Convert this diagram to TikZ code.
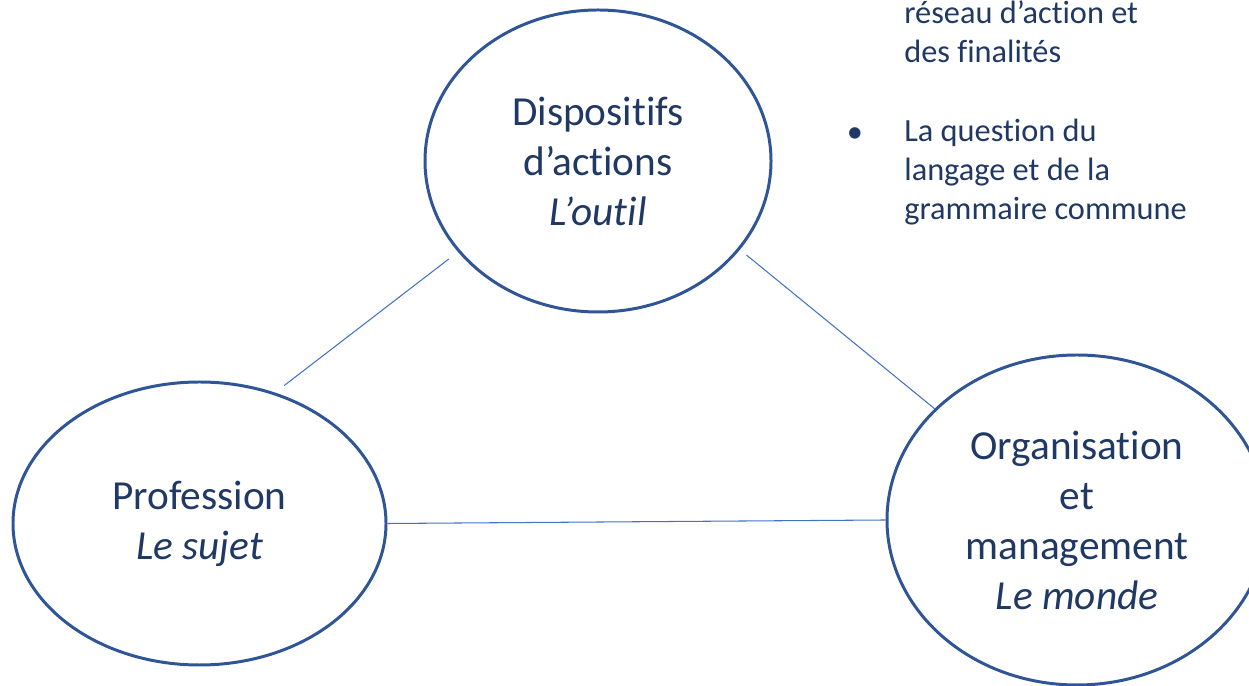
\documentclass[tikz,border=0pt]{standalone}
\usepackage{fontspec}
\setmainfont{Carlito}[Ligatures = NoCommon]
\usepackage{tikz}
\usetikzlibrary{shapes.geometric}
\definecolor{texte}{HTML}{203864}
\definecolor{contour}{HTML}{2F5597}
\definecolor{trait}{HTML}{4472C4}
\tikzset{bulle/.style = {ellipse, draw = contour, line width = 1.7pt, inner sep = 0pt,
                         align = center, text = texte,
                         font = \fontsize{23.5}{28.45}\selectfont},
         lien/.style = {draw = trait, line width = 0.6pt},
         liste/.style = {align = left, text = texte, inner sep = 0pt,
                         font = \fontsize{18.4}{22.2}\selectfont}}

\begin{document}
\begin{tikzpicture}
      \clip (0, 0) rectangle (24.98, 13.72);
      \node [bulle, minimum width = 6.92cm, minimum height = 6.04cm] (disp) at (11.96, 10.50)
            {Dispositifs\\d’actions\\\textit{L’outil}};
      \node [bulle, minimum width = 7.46cm, minimum height = 5.66cm] (prof) at (3.99, 3.25)
            {Profession\\\textit{Le sujet}};
      \node [bulle, minimum width = 7.6cm, minimum height = 6.6cm] (org) at (21.54, 3.32)
            {Organisation\\et\\management\\\textit{Le monde}};

      \draw [lien, shorten <= 0.23cm, shorten >= 0.23cm] (prof.60) -- (disp.213);
      \draw [lien, shorten <= 0.17cm] (disp.328) -- (org.142);
      \draw [lien] (prof.east) -- (org.west);

      \node [liste, anchor = base west] (finalites) at (18.08, 12.46) {réseau d’action et\\des finalités};
      \node [liste, anchor = base west] (langage) at (18.08, 9.32) {La question du\\langage et de la\\grammaire commune};
      \node [liste, anchor = base] (puce) at (17.1, 10.86) {•};
    \end{tikzpicture}
\end{document}
